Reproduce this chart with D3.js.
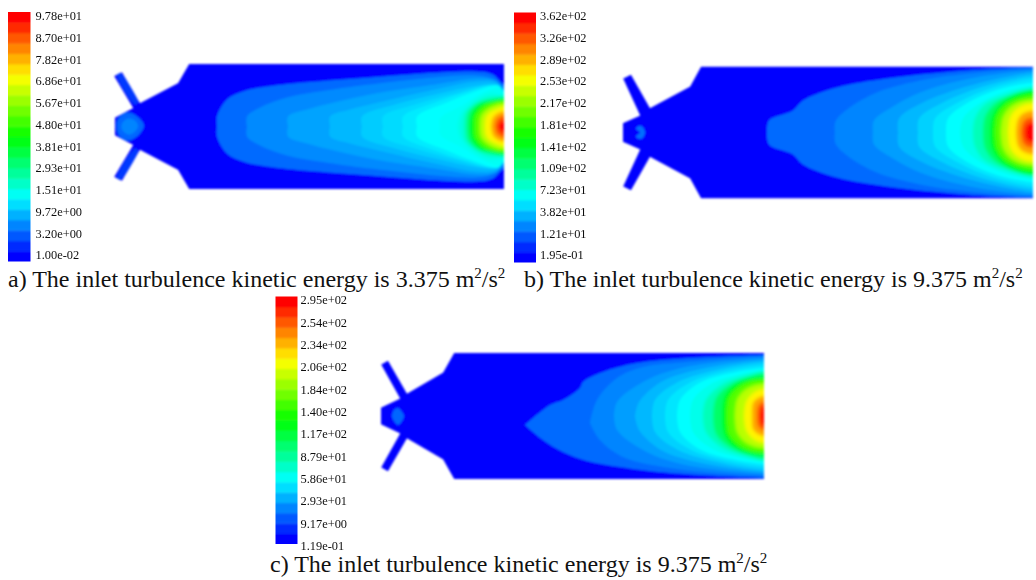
<!DOCTYPE html>
<html>
<head>
<meta charset="utf-8">
<script src="https://cdn.jsdelivr.net/npm/d3@7"></script>
<style>
  html, body { margin: 0; padding: 0; background: #fff; }
  svg { display: block; }
  text { font-family: "Liberation Serif", serif; fill: #111; }
</style>
</head>
<body>
<div id="chart"></div>
<script>
// Colour bar labels, top to bottom
const aTicks = ['9.78e+01', '8.70e+01', '7.82e+01', '6.86e+01', '5.67e+01', '4.80e+01', '3.81e+01', '2.93e+01', '1.51e+01', '9.72e+00', '3.20e+00', '1.00e-02'];
const bTicks = ['3.62e+02', '3.26e+02', '2.89e+02', '2.53e+02', '2.17e+02', '1.81e+02', '1.41e+02', '1.09e+02', '7.23e+01', '3.82e+01', '1.21e+01', '1.95e-01'];
const cTicks = ['2.95e+02', '2.54e+02', '2.34e+02', '2.06e+02', '1.84e+02', '1.40e+02', '1.17e+02', '8.79e+01', '5.86e+01', '2.93e+01', '9.17e+00', '1.19e-01'];

const captions = [
  'a) The inlet turbulence kinetic energy is 3.375 m',
  'b) The inlet turbulence kinetic energy is 9.375 m',
  'c) The inlet turbulence kinetic energy is 9.375 m'
];

// Combustor wall, upper half, as [axial, radial].
// The lower half is its mirror image.
const aWall = [[0, 9], [18, 18.5], [-1, 50.5], [7, 54.5], [25, 23.5], [63, 43.5], [74, 62.5], [389, 62.5]];
const bWall = [[0, 9.5], [17, 17], [0, 54], [8, 58], [27, 24.5], [67, 46], [78, 66], [410, 66]];
const cWall = [[0, 8.5], [19, 17.5], [0, 51.5], [7, 55.5], [26, 22.5], [62, 43.5], [73, 63], [383, 63]];

// Contour levels (0 = bottom of colour bar, 1 = top) and the outline of each
// filled contour from the axis out to the outlet, upper half.
const aLevels = [0.105, 0.135, 0.16, 0.18, 0.2, 0.215, 0.23, 0.25, 0.26, 0.28, 0.33, 0.40, 0.48, 0.58, 0.68, 0.76, 0.84, 0.92, 1];
const aOutlines = [
  [[102, 0], [102, 10], [112, 27], [128, 35], [152, 40], [255, 49], [362, 55], [378, 52], [389, 42]],
  [[132, 0], [132, 10], [145, 19], [172, 29], [218, 37], [255, 42], [362, 51], [380, 47], [389, 40]],
  [[173, 0], [173, 10], [192, 17], [255, 32], [320, 42], [362, 48], [380, 46], [389, 38]],
  [[215, 0], [215, 10], [235, 17], [255, 22], [320, 37], [362, 45], [381, 44], [389, 37]],
  [[247, 0], [247, 10], [280, 22], [320, 32], [362, 41], [382, 42], [389, 36]],
  [[268, 0], [268, 10], [300, 22], [340, 33], [375, 41], [389, 35]],
  [[288, 0], [288, 10], [320, 24], [350, 34], [380, 41], [389, 35]],
  [[302, 0], [302, 10], [332, 24], [360, 35], [383, 41], [389, 35]],
  [[325, 0], [325, 8], [345, 20], [365, 32], [384, 39], [389, 34]],
  [[343, 0], [346, 12], [360, 26], [375, 33], [389, 31]],
  [[349, 0], [351, 14], [362, 24], [375, 29], [389, 30]],
  [[352, 0], [354, 14], [363, 23], [378, 27], [389, 29]],
  [[355, 0], [357, 13], [365, 22], [378, 26], [389, 28]],
  [[360, 0], [361, 11], [369, 20], [380, 24], [389, 25]],
  [[365, 0], [366, 10], [372, 17], [382, 22], [389, 23]],
  [[370, 0], [371, 9], [375, 14], [383, 18], [389, 20]],
  [[376, 0], [378, 9], [384, 14], [389, 15]],
  [[380, 0], [382, 7], [386, 10], [389, 11]],
  [[383, 0], [385, 4], [389, 6]]
];

const bLevels = [0.105, 0.13, 0.155, 0.18, 0.205, 0.225, 0.25, 0.27, 0.32, 0.40, 0.48, 0.58, 0.68, 0.76, 0.84, 0.92, 1];
const bOutlines = [
  [[144, 0], [146, 12], [170, 22], [180, 32], [214, 45], [264, 54], [330, 61], [380, 64], [410, 65]],
  [[212, 0], [213, 12], [247, 37], [297, 52], [347, 59], [410, 64]],
  [[250, 0], [251, 12], [270, 26], [297, 40], [347, 54], [410, 62]],
  [[275, 0], [276, 14], [300, 30], [347, 47], [410, 60]],
  [[295, 0], [296, 14], [320, 30], [360, 46], [410, 57]],
  [[310, 0], [312, 14], [335, 30], [370, 45], [410, 54]],
  [[323, 0], [325, 14], [345, 30], [375, 43], [410, 50]],
  [[337, 0], [340, 14], [355, 28], [380, 40], [410, 47]],
  [[350, 0], [352, 14], [362, 28], [385, 38], [410, 44]],
  [[360, 0], [362, 16], [372, 29], [390, 38], [410, 43]],
  [[367, 0], [369, 16], [378, 29], [393, 38], [410, 42]],
  [[372, 0], [374, 16], [382, 27], [396, 34], [410, 37]],
  [[378, 0], [380, 15], [387, 25], [398, 31], [410, 33]],
  [[385, 0], [387, 15], [393, 23], [402, 28], [410, 29]],
  [[393, 0], [395, 13], [400, 19], [410, 22]],
  [[398, 0], [400, 10], [404, 14], [410, 15]],
  [[402, 0], [403, 6], [406, 9], [410, 10]]
];

const cLevels = [0.105, 0.13, 0.155, 0.18, 0.205, 0.225, 0.25, 0.27, 0.32, 0.40, 0.48, 0.58, 0.68, 0.76, 0.84, 0.92, 1];
const cOutlines = [
  [[144, -9], [169, 11], [182, 16], [199, 28], [202, 34], [222, 44], [256, 53], [306, 58], [383, 61]],
  [[209, -7], [216, 16], [236, 38], [262, 49], [306, 54], [383, 60]],
  [[233, 0], [236, 14], [262, 34], [300, 48], [383, 58]],
  [[254, 0], [258, 14], [280, 34], [320, 47], [383, 56]],
  [[271, 0], [274, 16], [297, 34], [340, 47], [383, 54]],
  [[284, 0], [287, 16], [310, 34], [350, 46], [383, 51]],
  [[296, 0], [299, 16], [320, 34], [355, 44], [383, 48]],
  [[309, 0], [312, 16], [330, 32], [360, 42], [383, 46]],
  [[322, 0], [325, 16], [342, 32], [365, 40], [383, 44]],
  [[332, 0], [335, 18], [350, 32], [370, 40], [383, 43]],
  [[341, 0], [343, 18], [352, 30], [368, 37], [383, 39]],
  [[346, 0], [348, 18], [358, 29], [372, 35], [383, 36]],
  [[354, 0], [356, 16], [364, 26], [375, 31], [383, 32]],
  [[363, 0], [365, 14], [371, 22], [378, 26], [383, 27]],
  [[371, 0], [372, 13], [377, 18], [383, 20]],
  [[376, 0], [377, 9], [380, 13], [383, 14]],
  [[379, 0], [380, 5], [381, 9], [383, 9]]
];
// The two outer contours in c) are not symmetric, so their lower edge is kept too
const cLowerOutlines = [
  [[144, -9], [162, -24], [182, -36], [206, -45], [239, -51], [289, -57], [383, -62]],
  [[209, -7], [219, -24], [242, -41], [289, -52], [383, -60]]
];

// Closed patches in the nozzle and swirler arms
const aPatchLevels = [0.055, 0.055, 0.10, 0.13];
const aPatches = [
  [[2, 52], [5, 53.5], [23, 24], [20, 22]],
  [[2, -52], [5, -53.5], [23, -24], [20, -22]],
  [[2, 5], [6, 11], [13, 14], [21, 11], [29, 1], [22, -10], [13, -14], [5, -10], [2, -4]],
  [[7, 3], [13, 8], [20, 6], [23, 0], [19, -6], [13, -8], [7, -3]]
];
const bPatchLevels = [0.11];
const bPatches = [[[17, 0], [13, 4], [15, 6], [19, 6], [22, 0], [19, -6], [15, -6], [13, -4]]];
const cPatchLevels = [0.10];
const cPatches = [[[11, 0], [13, 6], [17, 8], [21, 4], [23, 0], [21, -5], [17, -9], [13, -5]]];

const bandCount = 24;
// Contours from this level up blend into each other in the picture
const smoothFrom = 0.28;

const width = 1036;
const height = 580;

const svg = d3.select('#chart').append('svg')
  .attr('width', width)
  .attr('height', height)
  .attr('viewBox', `0 0 ${width} ${height}`);

const defs = svg.append('defs');
function addBlur(id, amount) {
  defs.append('filter').attr('id', id)
    .attr('x', '-10%').attr('y', '-10%').attr('width', '120%').attr('height', '120%')
    .append('feGaussianBlur').attr('stdDeviation', amount);
}
addBlur('soft', 0.9);
addBlur('softHot', 1.7);
addBlur('softBar', 1.3);
addBlur('softText', 0.25);

// Colour bar runs blue to red around the hue wheel
const hue = d3.scaleLinear().domain([0, 1]).range([240, 0]);
const levelColor = level => d3.hsl(hue(level), 1, 0.5).formatHex();

const mirror = half => half.slice().reverse().map(([a, r]) => [a, -r]);

function drawLegend(id, ticks, box, labelX, labelTop, labelBottom) {
  const band = d3.scaleBand().domain(d3.range(bandCount)).range([box.bottom, box.top]);
  defs.append('clipPath').attr('id', `bar-${id}`)
    .append('rect')
    .attr('x', box.left)
    .attr('y', box.top)
    .attr('width', box.right - box.left)
    .attr('height', box.bottom - box.top);

  // Bands overshoot the clip so the blur does not fade at the edges
  svg.append('g').attr('clip-path', `url(#bar-${id})`)
    .append('g').attr('filter', 'url(#softBar)')
    .selectAll('rect')
    .data(d3.range(bandCount))
    .join('rect')
    .attr('x', box.left - 6)
    .attr('y', d => d === bandCount - 1 ? band(d) - 6 : band(d))
    .attr('width', box.right - box.left + 12)
    .attr('height', d => band.bandwidth() + 0.4 + (d === 0 || d === bandCount - 1 ? 6 : 0))
    .attr('fill', d => levelColor(d / (bandCount - 1)));

  const labels = d3.scalePoint().domain(ticks).range([labelTop, labelBottom]);
  const axis = svg.append('g')
    .attr('transform', `translate(${labelX},0)`)
    .attr('filter', 'url(#softText)')
    .call(d3.axisRight(labels).tickSize(0).tickPadding(0));
  axis.select('.domain').remove();
  axis.selectAll('text').attr('font-size', 12.4).attr('font-family', '"Liberation Serif", serif').attr('fill', '#111');
}

function drawField(id, panel) {
  const outlet = panel.wall[panel.wall.length - 1][0];
  const x = d3.scaleLinear().domain([0, outlet]).range(panel.xRange);
  const halfHeight = panel.wall[panel.wall.length - 1][1];
  const y = d3.scaleLinear().domain([-halfHeight, halfHeight]).range(panel.yRange);

  const line = d3.line().x(d => x(d[0])).y(d => y(d[1]));
  const wallPath = line.curve(d3.curveLinearClosed)(panel.wall.concat(mirror(panel.wall)));

  defs.append('clipPath').attr('id', `wall-${id}`).append('path').attr('d', wallPath);

  const g = svg.append('g').attr('filter', 'url(#soft)');
  const clipped = g.append('g').attr('clip-path', `url(#wall-${id})`);

  clipped.append('path').attr('d', wallPath).attr('fill', levelColor(0));

  const patchLine = d3.line().x(d => x(d[0])).y(d => y(d[1])).curve(d3.curveCatmullRomClosed);
  clipped.selectAll('path.patch')
    .data(panel.patches)
    .join('path')
    .attr('class', 'patch')
    .attr('d', d => patchLine(d))
    .attr('fill', (d, i) => levelColor(panel.patchLevels[i]));

  const contourLine = d3.line().x(d => x(d[0])).y(d => y(d[1])).curve(d3.curveCatmullRomClosed.alpha(0.5));
  const contourPath = (d, i) => {
    const lower = (panel.lowers && panel.lowers[i])
      ? panel.lowers[i].slice().reverse()
      : mirror(d);
    // Run past the outlet so the blur does not fade along the open end
    const upperEnd = d[d.length - 1];
    const lowerStart = lower[0];
    return contourLine(d.concat([[outlet + 10, upperEnd[1]], [outlet + 10, lowerStart[1]]], lower));
  };

  const contours = panel.outlines.map((outline, i) => ({ outline, i, level: panel.levels[i] }));

  clipped.append('g').selectAll('path')
    .data(contours.filter(d => d.level < smoothFrom))
    .join('path')
    .attr('d', d => contourPath(d.outline, d.i))
    .attr('fill', d => levelColor(d.level));

  clipped.append('g').attr('filter', 'url(#softHot)').selectAll('path')
    .data(contours.filter(d => d.level >= smoothFrom))
    .join('path')
    .attr('d', d => contourPath(d.outline, d.i))
    .attr('fill', d => levelColor(d.level));
}

function drawCaption(text, xPos, yPos) {
  const t = svg.append('text')
    .attr('x', xPos)
    .attr('y', yPos)
    .attr('font-size', 24);
  t.append('tspan').text(text);
  t.append('tspan').attr('dy', -9).attr('font-size', 15).text('2');
  t.append('tspan').attr('dy', 9).text('/s');
  t.append('tspan').attr('dy', -9).attr('font-size', 15).text('2');
}

drawLegend('a', aTicks, { left: 8, right: 30.5, top: 12, bottom: 261.5 }, 35.5, 15.5, 255);
drawLegend('b', bTicks, { left: 514, right: 536, top: 12.5, bottom: 262.5 }, 540, 15.5, 255);
drawLegend('c', cTicks, { left: 275.5, right: 297.5, top: 296.5, bottom: 544 }, 300.5, 300, 545.5);

drawField('a', { wall: aWall, xRange: [115, 504], yRange: [189, 64], levels: aLevels, outlines: aOutlines, patches: aPatches, patchLevels: aPatchLevels });
drawField('b', { wall: bWall, xRange: [623, 1033], yRange: [198.5, 66.5], levels: bLevels, outlines: bOutlines, patches: bPatches, patchLevels: bPatchLevels });
drawField('c', { wall: cWall, xRange: [381, 764], yRange: [479, 353], levels: cLevels, outlines: cOutlines, lowers: cLowerOutlines, patches: cPatches, patchLevels: cPatchLevels });

drawCaption(captions[0], 8, 287);
drawCaption(captions[1], 524, 287);
drawCaption(captions[2], 270, 572);
</script>
</body>
</html>
